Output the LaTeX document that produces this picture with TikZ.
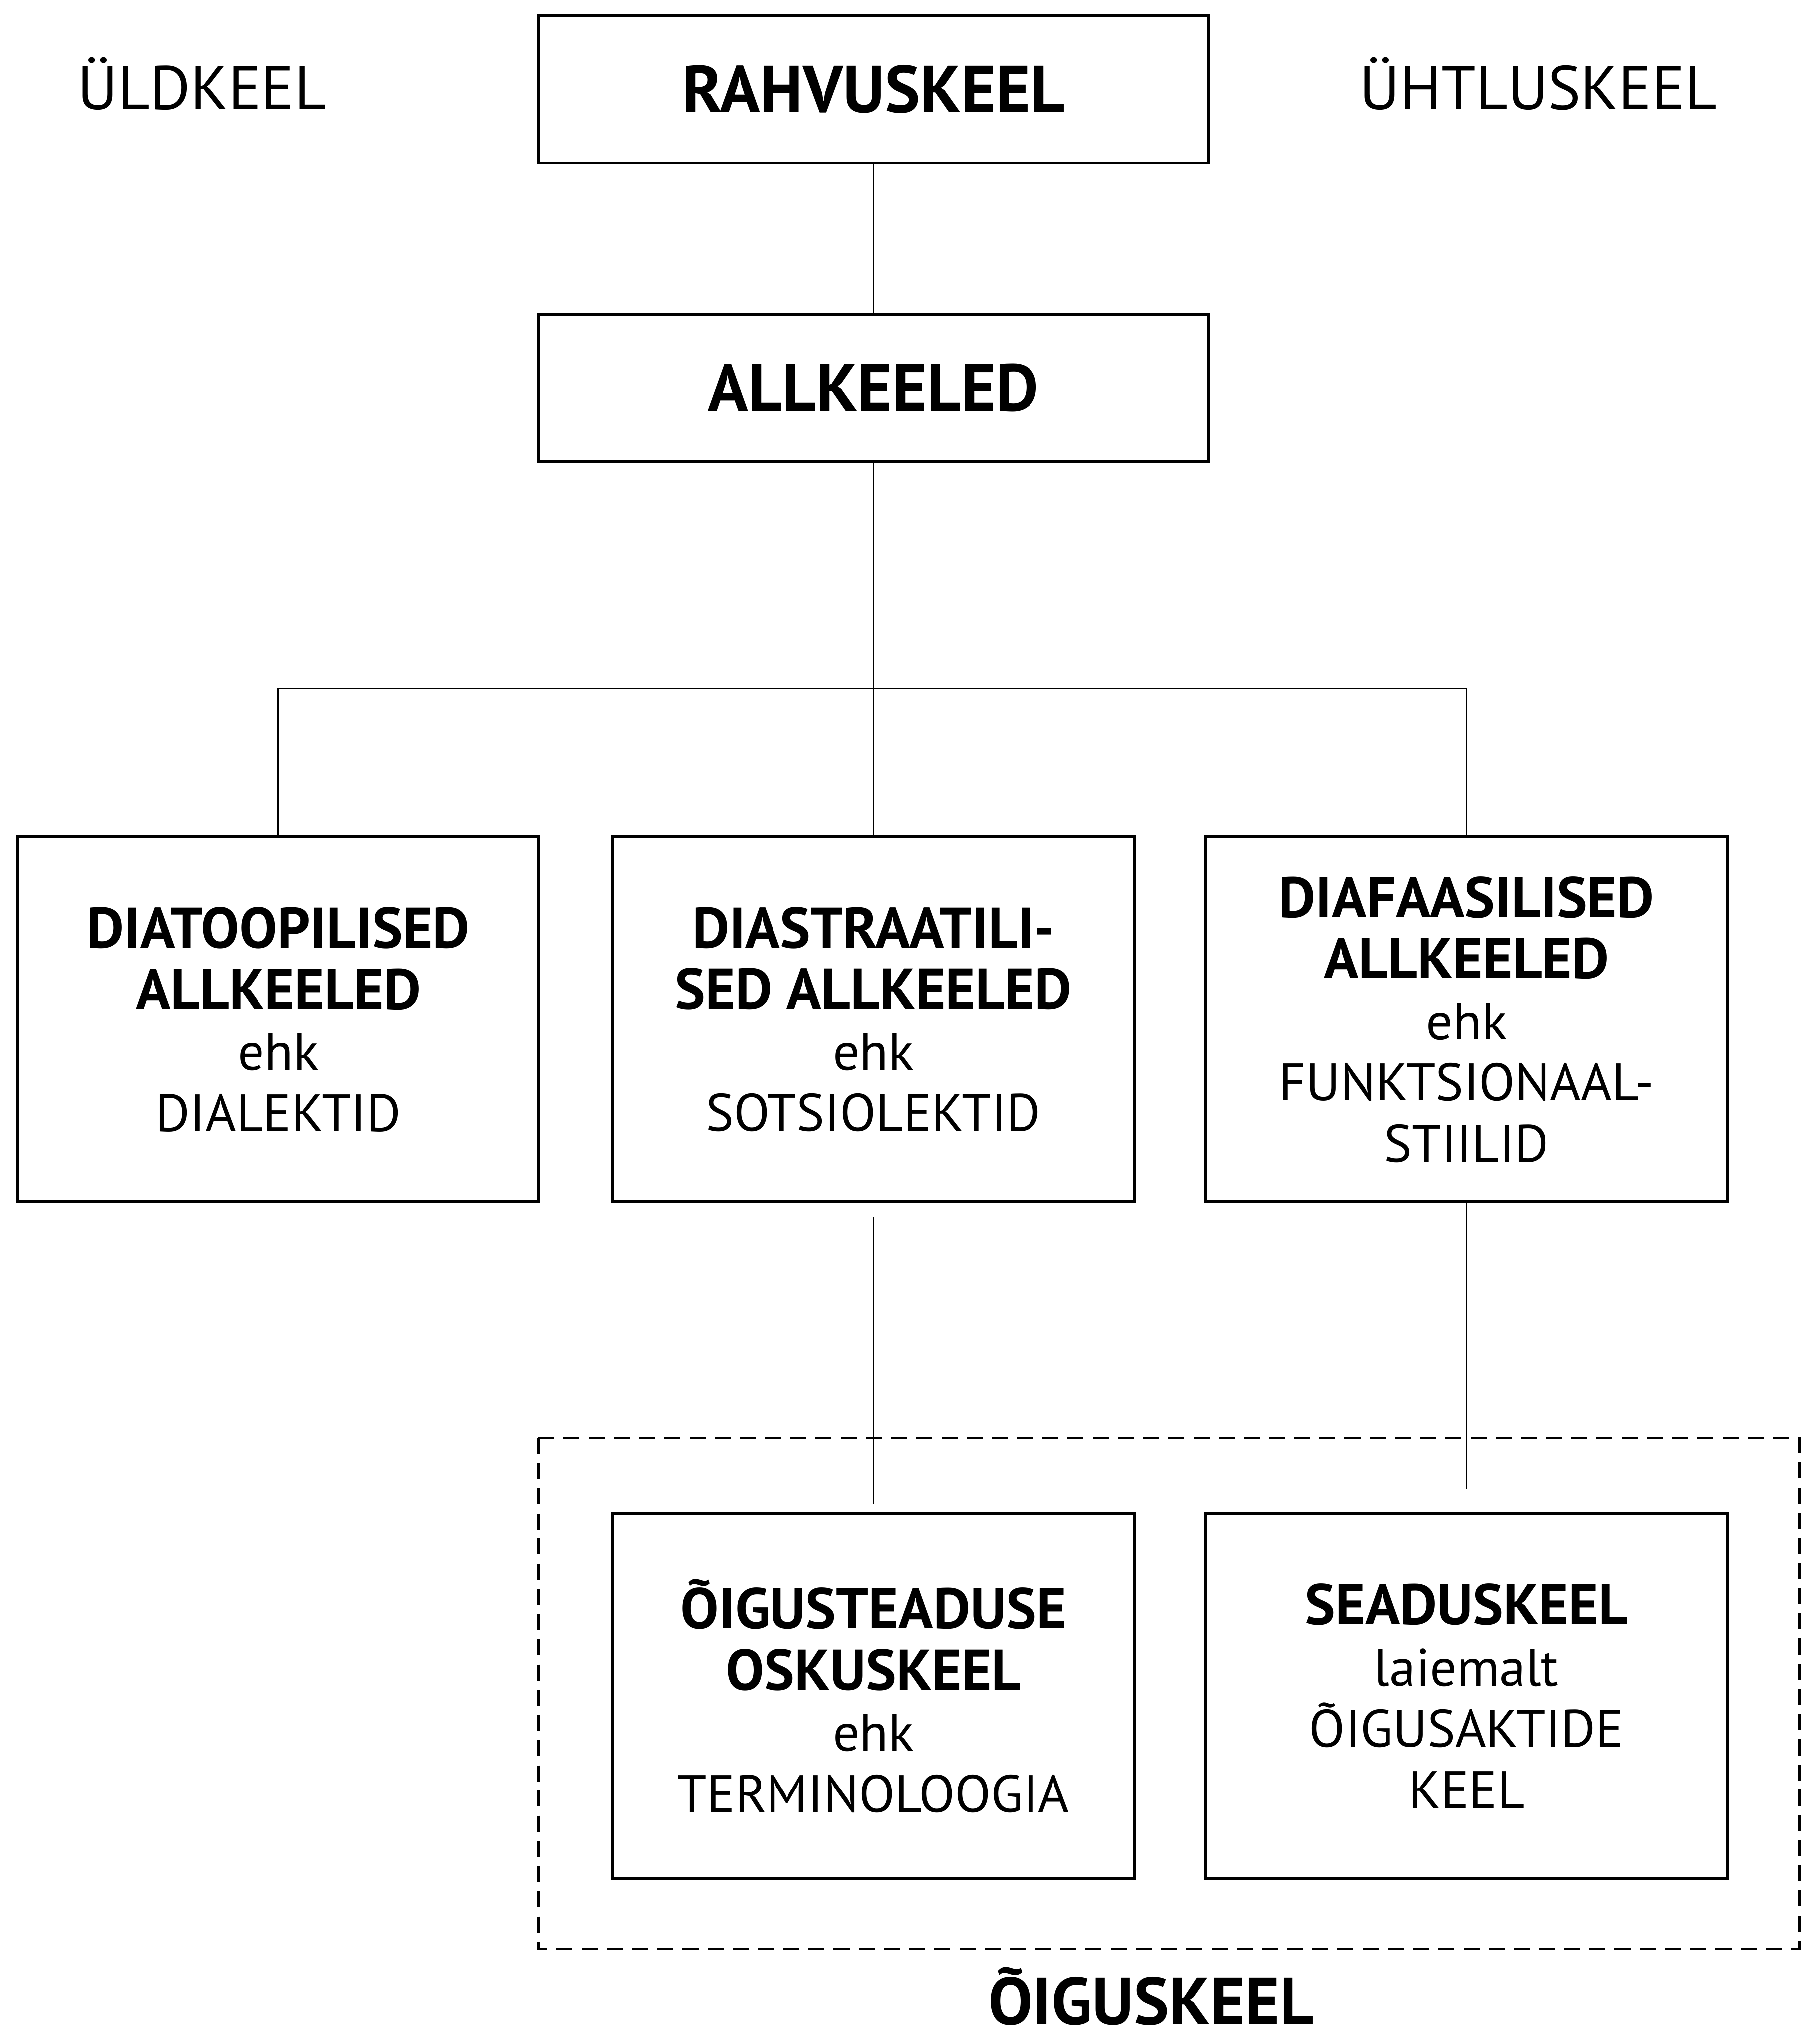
\documentclass[tikz,border=0pt]{standalone}
\usepackage{fontspec}
\setmainfont{PT Sans}
\usetikzlibrary{positioning}
\newcommand\hdfont{\fontsize{25}{26.7}\selectfont\bfseries}

\begin{document}
\begin{tikzpicture}[
    x=0.02cm, y=-0.02cm,
    every node/.style={font=\fontsize{23}{26.7}\selectfont},
    box/.style={draw, line width=1.3pt, align=center, inner sep=0pt},
    topbox/.style={box, minimum width=10.28cm, minimum height=2.26cm, font=\fontsize{29}{32}\selectfont\bfseries},
    subbox/.style={box, minimum width=8cm, minimum height=5.6cm},
    link/.style={line width=0.7pt},
    frame/.style={line width=1.2pt, dash pattern=on 7pt off 4pt}
]
\useasboundingbox (0,0) rectangle (1383,1568);

% top of the tree
\node[topbox] (rahvus) at (670,68.5) {RAHVUSKEEL};
\node[topbox] (allkeeled) at (670,297.5) {ALLKEELED};
\node[anchor=base] (uld) at (155,84) {\fontsize{27}{30}\selectfont ÜLDKEEL};
\node[anchor=base] (uhtlus) at (1180,84) {\fontsize{27}{30}\selectfont ÜHTLUSKEEL};

% three kinds of sublanguages
\node[subbox] (diatoop) at (213.5,782) {{\hdfont DIATOOPILISED}\\{\hdfont ALLKEELED}\\ehk\\DIALEKTID};
\node[subbox] (diastr) at (670,782) {{\hdfont DIASTRAATILI-}\\{\hdfont SED ALLKEELED}\\ehk\\SOTSIOLEKTID};
\node[subbox] (diafaas) at (1125,782) {{\hdfont DIAFAASILISED}\\{\hdfont ALLKEELED}\\ehk\\FUNKTSIONAAL-\\STIILID};

% legal language
\node[subbox] (oigust) at (670,1301) {{\hdfont ÕIGUSTEADUSE}\\{\hdfont OSKUSKEEL}\\ehk\\TERMINOLOOGIA};
\node[subbox] (seadus) at (1125,1301) {{\hdfont SEADUSKEEL}\\laiemalt\\ÕIGUSAKTIDE\\KEEL};
\coordinate (framenw) at (413,1103);
\coordinate (framese) at (1380,1495);
\draw[frame] (framenw) rectangle (framese);
\node[anchor=base, inner sep=0pt] (oiguskeel) at (883,1553) {\fontsize{29}{32}\selectfont\bfseries ÕIGUSKEEL};

\coordinate (fork) at (670,528);
\draw[link] (rahvus) -- (allkeeled);
\draw[link] (allkeeled) -- (diastr);
\draw[link] (diatoop.north) |- (fork) -| (diafaas.north);
\draw[link, shorten <=5.7pt, shorten >=3.4pt] (diastr) -- (oigust);
\draw[link, shorten >=10pt] (diafaas) -- (seadus);
\end{tikzpicture}
\end{document}
